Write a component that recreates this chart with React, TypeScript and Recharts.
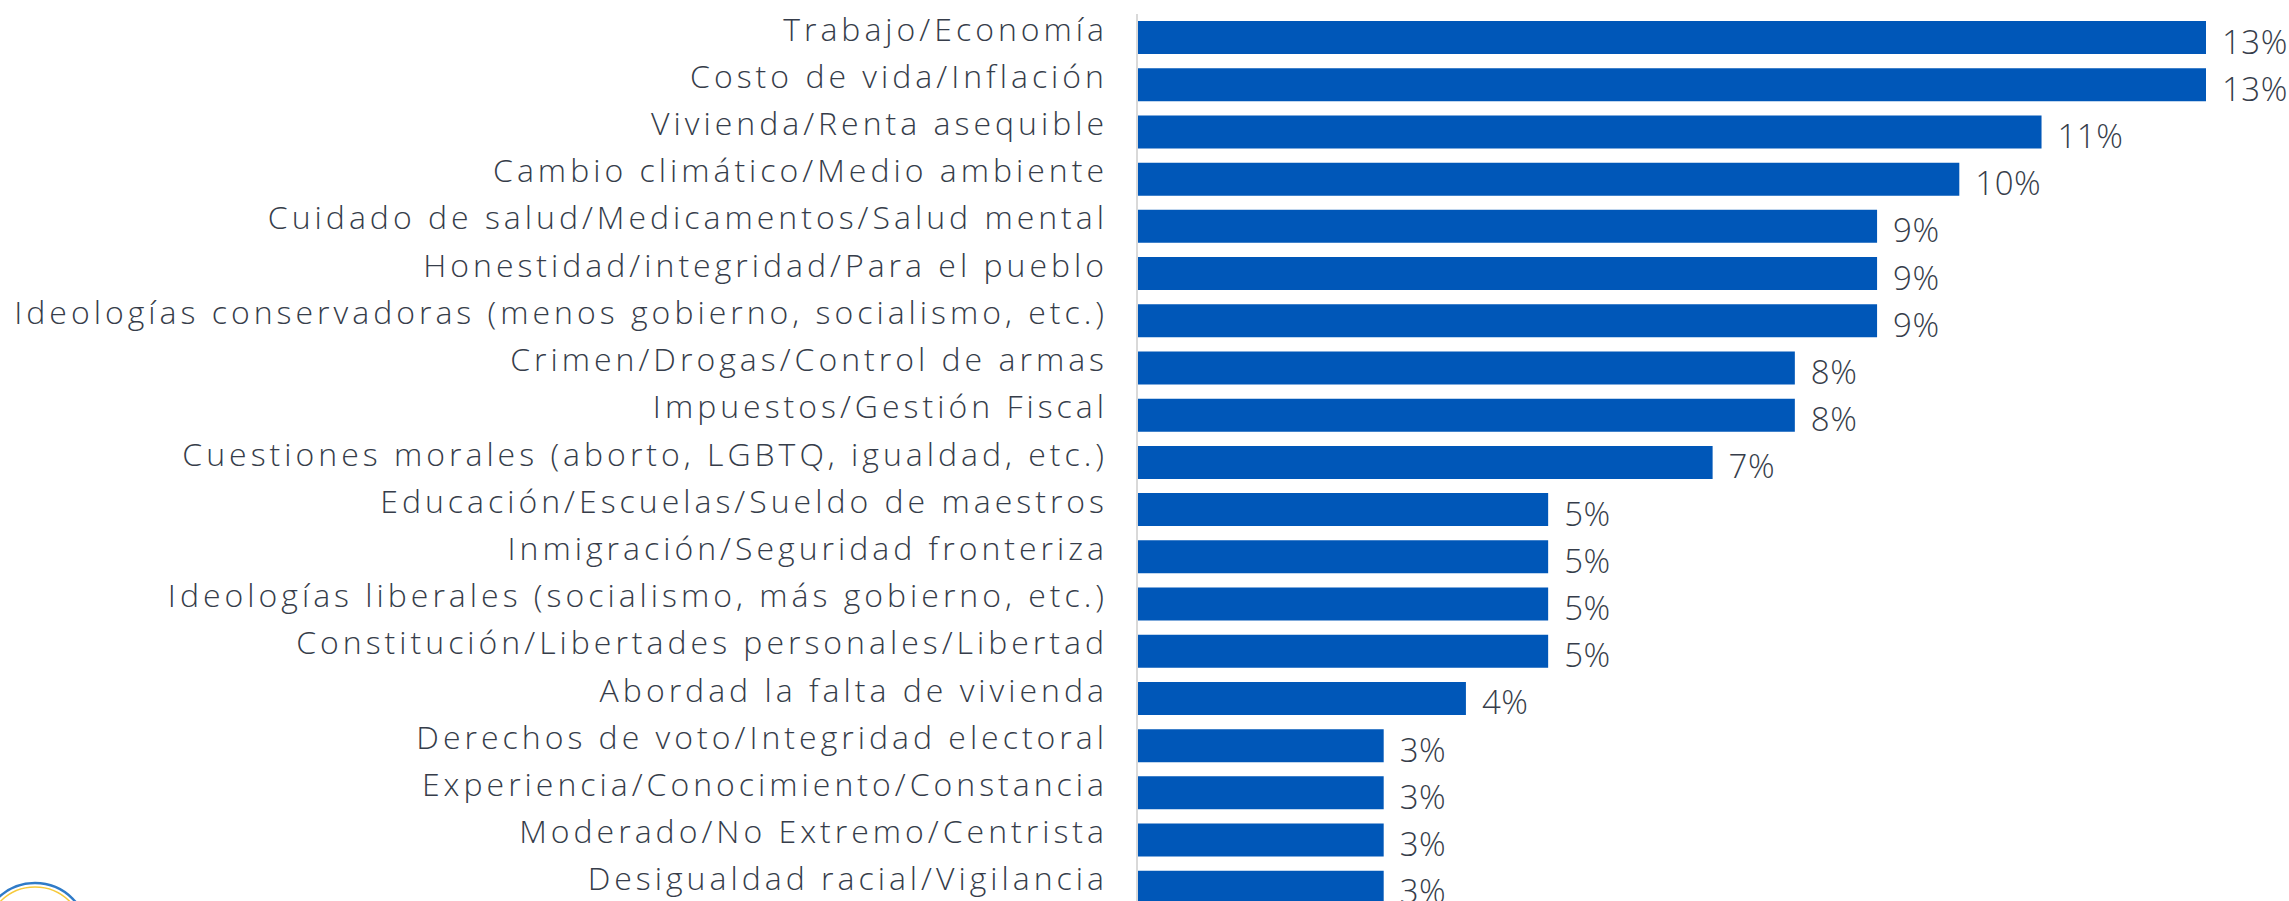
import React from 'react';
import { BarChart, Bar, XAxis, YAxis, LabelList } from 'recharts';

const categories: string[] = [
  'Trabajo/Economía',
  'Costo de vida/Inflación',
  'Vivienda/Renta asequible',
  'Cambio climático/Medio ambiente',
  'Cuidado de salud/Medicamentos/Salud mental',
  'Honestidad/integridad/Para el pueblo',
  'Ideologías conservadoras (menos gobierno, socialismo, etc.)',
  'Crimen/Drogas/Control de armas',
  'Impuestos/Gestión Fiscal',
  'Cuestiones morales (aborto, LGBTQ, igualdad, etc.)',
  'Educación/Escuelas/Sueldo de maestros',
  'Inmigración/Seguridad fronteriza',
  'Ideologías liberales (socialismo, más gobierno, etc.)',
  'Constitución/Libertades personales/Libertad',
  'Abordad la falta de vivienda',
  'Derechos de voto/Integridad electoral',
  'Experiencia/Conocimiento/Constancia',
  'Moderado/No Extremo/Centrista',
  'Desigualdad racial/Vigilancia',
];

const values: number[] = [13, 13, 11, 10, 9, 9, 9, 8, 8, 7, 5, 5, 5, 5, 4, 3, 3, 3, 3];

const data = categories.map((name, i) => ({ name, value: values[i] }));

const FONT = '"Open Sans", Lato, sans-serif';
const TEXT = '#363d4a';
const BAR = '#0057b8';

const CategoryTick = (props: any) => {
  const { x, y, payload } = props;
  return (
    <text
      x={x}
      y={y}
      dy={3}
      textAnchor="end"
      fill={TEXT}
      fontSize={32}
      fontWeight={300}
      fontFamily={FONT}
      letterSpacing={4}
    >
      {payload.value}
    </text>
  );
};

const PctLabel = (props: any) => {
  const { x, y, width, height, value } = props;
  return (
    <text
      x={Number(x) + Number(width) + 16}
      y={Number(y) + Number(height) / 2 + 16}
      textAnchor="start"
      fill={TEXT}
      fontSize={33}
      fontWeight={300}
      fontFamily={FONT}
      letterSpacing={0.5}
    >
      {`${value}%`}
    </text>
  );
};

export default function App() {
  return (
    <div
      style={{
        position: 'absolute',
        left: 0,
        top: 0,
        width: 2289,
        height: 901,
        overflow: 'hidden',
        background: '#ffffff',
      }}
    >
      <BarChart
        width={2289}
        height={920}
        data={data}
        layout="vertical"
        margin={{ top: 14, right: 83, bottom: 9, left: 0 }}
        barSize={33}
      >
        <XAxis type="number" domain={[0, 13]} hide />
        <YAxis
          type="category"
          dataKey="name"
          width={1137}
          axisLine={{ stroke: '#d9d9d9', strokeWidth: 2 }}
          tickLine={false}
          tickSize={0}
          tickMargin={29}
          interval={0}
          tick={<CategoryTick />}
        />
        <Bar dataKey="value" fill={BAR} isAnimationActive={false}>
          <LabelList dataKey="value" content={<PctLabel />} />
        </Bar>
      </BarChart>
      <svg
        width={120}
        height={40}
        style={{ position: 'absolute', left: 0, top: 861 }}
      >
        <circle cx={35} cy={75} r={53} fill="none" stroke="#2f7bc8" strokeWidth={2.5} />
        <circle cx={35} cy={75} r={49} fill="none" stroke="#f6c93a" strokeWidth={1.5} />
      </svg>
    </div>
  );
}
